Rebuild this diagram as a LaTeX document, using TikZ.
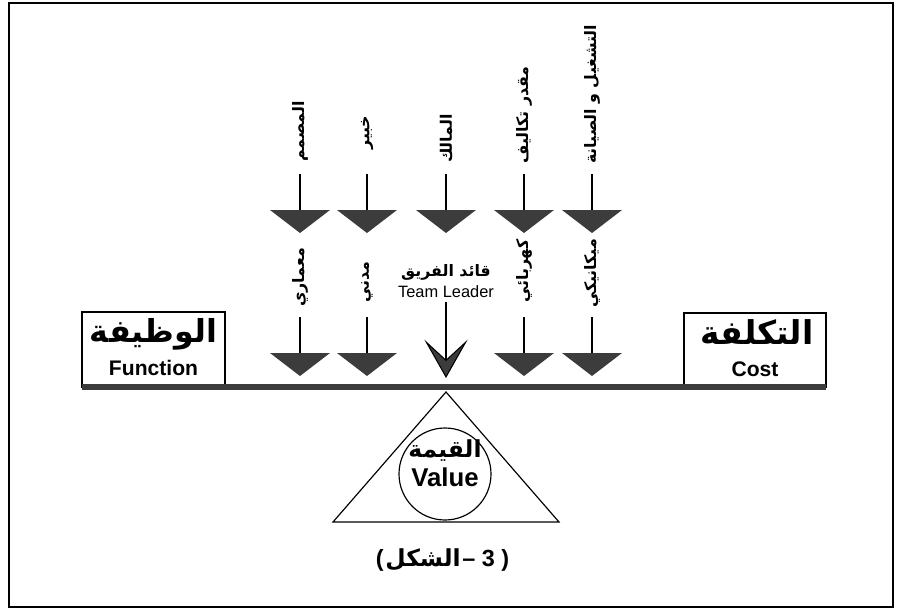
\documentclass[tikz,border=0pt]{standalone}
\usepackage{fontspec}
\setmainfont{Liberation Sans}
\newfontfamily\arabicfont[Script=Arabic]{DejaVu Sans}
\TeXXeTstate=1
\usetikzlibrary{arrows.meta,positioning}
\definecolor{headgray}{HTML}{3C3C3C}
\newcommand{\artxt}[1]{{\arabicfont\beginR #1\endR}}

\begin{document}
\begin{tikzpicture}[x=0.03cm, y=-0.03cm, >=Stealth,
  stem/.style={line width=0.9pt},
  head/.style={fill=headgray},
  toplbl/.style={rotate=90, anchor=west, inner sep=0pt, font=\bfseries\fontsize{13.5}{15}\selectfont},
  pan/.style={draw, line width=1pt, inner sep=0pt}]
  \useasboundingbox (0,0) rectangle (901,610);
  % frame
  \draw[line width=1.3pt] (9,3) rectangle (893,607);

  % pans on the beam
  \draw[pan] (82,312) rectangle (225,387);
  \draw[pan] (684,313) rectangle (826,387);
  \node[font=\bfseries\fontsize{27}{29}\selectfont] (funcAr) at (153.5,334) {\artxt{الوظيفة}};
  \node[font=\bfseries\fontsize{18}{20}\selectfont] (funcEn) at (153.5,368) {Function};
  \node[font=\bfseries\fontsize{28}{30}\selectfont] (costAr) at (757,332) {\artxt{التكلفة}};
  \node[font=\bfseries\fontsize{18}{20}\selectfont] (costEn) at (755,369) {Cost};

  % beam
  \draw[line width=5pt, headgray] (82,387) -- (826,387);

  % upper row
  \node[toplbl] (des) at (300,162) {\artxt{المصمم}};
  \node[toplbl] (exp) at (367,150) {\artxt{خبير}};
  \node[toplbl] (own) at (446,163) {\artxt{المالك}};
  \node[toplbl] (est) at (524,164) {\artxt{مقدر تكاليف}};
  \node[toplbl] (ops) at (592,164) {\artxt{التشغيل و الصيانة}};
  \coordinate (u1) at (300,174); \coordinate (h1) at (300,210);
  \coordinate (u2) at (367,174); \coordinate (h2) at (367,210);
  \coordinate (u3) at (446,174); \coordinate (h3) at (446,210);
  \coordinate (u4) at (524,174); \coordinate (h4) at (524,210);
  \coordinate (u5) at (592,174); \coordinate (h5) at (592,210);
  \draw[stem] (u1) -- (h1); \fill[head] (h1) -- ++(30,0) -- ++(-30,23) -- ++(-30,-23) -- cycle;
  \draw[stem] (u2) -- (h2); \fill[head] (h2) -- ++(30,0) -- ++(-30,23) -- ++(-30,-23) -- cycle;
  \draw[stem] (u3) -- (h3); \fill[head] (h3) -- ++(30,0) -- ++(-30,23) -- ++(-30,-23) -- cycle;
  \draw[stem] (u4) -- (h4); \fill[head] (h4) -- ++(30,0) -- ++(-30,23) -- ++(-30,-23) -- cycle;
  \draw[stem] (u5) -- (h5); \fill[head] (h5) -- ++(30,0) -- ++(-30,23) -- ++(-30,-23) -- cycle;

  % lower row
  \node[toplbl] (arc) at (300,307) {\artxt{معماري}};
  \node[toplbl] (civ) at (367,303) {\artxt{مدني}};
  \node[toplbl] (ele) at (524,303) {\artxt{كهربائي}};
  \node[toplbl] (mec) at (592,308) {\artxt{ميكانيكي}};
  \node[font=\bfseries\fontsize{13.5}{15}\selectfont] (leadAr) at (446,272) {\artxt{قائد الفريق}};
  \node[font=\fontsize{14}{16}\selectfont, below=0pt of leadAr, inner sep=1pt] (leadEn) {Team Leader};
  \coordinate (l1) at (300,317); \coordinate (k1) at (300,353);
  \coordinate (l2) at (367,317); \coordinate (k2) at (367,353);
  \coordinate (l4) at (524,317); \coordinate (k4) at (524,353);
  \coordinate (l5) at (592,317); \coordinate (k5) at (592,353);
  \coordinate (tip) at (446,378);
  \draw[stem] (l1) -- (k1); \fill[head] (k1) -- ++(30,0) -- ++(-30,23) -- ++(-30,-23) -- cycle;
  \draw[stem] (l2) -- (k2); \fill[head] (k2) -- ++(30,0) -- ++(-30,23) -- ++(-30,-23) -- cycle;
  \draw[stem] (l4) -- (k4); \fill[head] (k4) -- ++(30,0) -- ++(-30,23) -- ++(-30,-23) -- cycle;
  \draw[stem] (l5) -- (k5); \fill[head] (k5) -- ++(30,0) -- ++(-30,23) -- ++(-30,-23) -- cycle;
  \draw[stem, -{Stealth[length=1.15cm, width=1.3cm, inset=0.6cm, fill=headgray]}, shorten <=3pt] (leadEn) -- (tip);

  % fulcrum
  \draw[line width=1pt] (446,392) -- (559,522) -- (333,522) -- cycle;
  \node[draw, circle, line width=1pt, minimum size=2.76cm, inner sep=0pt] (val) at (445,474) {};
  \node[font=\bfseries\fontsize{20}{22}\selectfont] (valAr) at (445,451) {\artxt{القيمة}};
  \node[font=\bfseries\fontsize{22}{24}\selectfont] (valEn) at (445,477) {Value};

  % caption
  \node[font=\bfseries\fontsize{20}{22}\selectfont, inner sep=0pt] (capAr) at (423,560) {\artxt{الشكل}};
  \node[font=\bfseries\fontsize{20}{22}\selectfont, inner sep=0pt, left=1pt of capAr] (capL) {(};
  \node[font=\bfseries\fontsize{20}{22}\selectfont, inner sep=0pt, right=1pt of capAr] (capR) {– 3 )};
\end{tikzpicture}
\end{document}
